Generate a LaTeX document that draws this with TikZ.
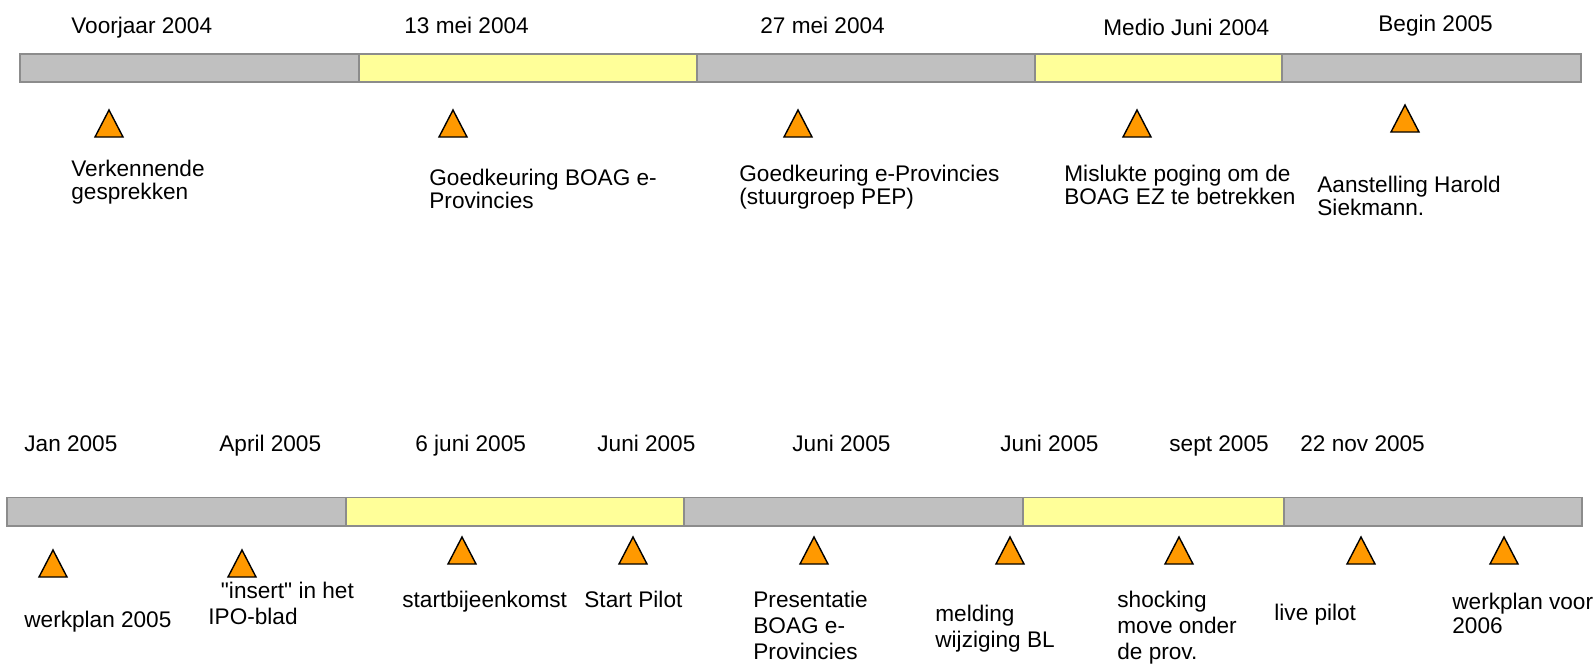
\documentclass[tikz,border=0pt]{standalone}
\usepackage{fontspec}
\setmainfont{Liberation Sans}[Ligatures=TeXOff]
\definecolor{barGrey}{HTML}{C0C0C0}
\definecolor{barEdge}{HTML}{8C8C8C}
\definecolor{barYellow}{HTML}{FFFF99}
\definecolor{markOrange}{HTML}{FF9900}
\begin{document}
\begin{tikzpicture}[x=0.5pt,y=-0.5pt,
  txt/.style={anchor=base west, inner sep=0pt, align=left, font=\fontsize{11.3}{11.65}\selectfont},
  txtlow/.style={txt, font=\fontsize{11.3}{13}\selectfont},
  seggrey/.style={fill=barGrey, draw=barEdge, line width=0.8pt},
  segyellow/.style={fill=barYellow, draw=barEdge, line width=0.8pt},
  marker/.style={fill=markOrange, draw=black, line width=0.7pt, line join=miter}]
\useasboundingbox (0,0) rectangle (1595,665);
% ---------- top timeline ----------
\foreach \a/\b/\s in {20/359/seggrey, 359/697/segyellow, 697/1035/seggrey, 1035/1282/segyellow, 1282/1581/seggrey}
  \draw[\s] (\a,54) rectangle (\b,82);
\node[txt] (d1) at (71,33.5) {Voorjaar 2004};
\node[txt] (d2) at (404,33.5) {13 mei 2004};
\node[txt] (d3) at (760,33.5) {27 mei 2004};
\node[txt] (d4) at (1103,35.5) {Medio Juni 2004};
\node[txt] (d5) at (1378,31.5) {Begin 2005};
\foreach \c/\t in {109/110, 453/110, 798/110, 1137/110, 1405/105}
  \draw[marker] (\c-14,\t+27) -- (\c,\t) -- (\c+14,\t+27) -- cycle;
\node[txt] (e1) at (71,199.8) {Verkennende\\gesprekken};
\node[txt] (e2) at (429,208.8) {Goedkeuring BOAG e-\\Provincies};
\node[txt] (e3) at (739,204.8) {Goedkeuring e-Provincies\\(stuurgroep PEP)};
\node[txt] (e4) at (1064,204.8) {Mislukte poging om de\\BOAG EZ te betrekken};
\node[txt] (e5) at (1317,215.8) {Aanstelling Harold\\Siekmann.};
% ---------- bottom timeline ----------
\foreach \a/\b/\s in {7/346/seggrey, 346/684/segyellow, 684/1023/seggrey, 1023/1284/segyellow, 1284/1582/seggrey}
  \draw[\s] (\a,497.5) rectangle (\b,526);
\node[txt] (f1) at (24,451.5) {Jan 2005};
\node[txt] (f2) at (219,451.5) {April 2005};
\node[txt] (f3) at (415,451.5) {6 juni 2005};
\node[txt] (f4) at (597,451.5) {Juni 2005};
\node[txt] (f5) at (792,451.5) {Juni 2005};
\node[txt] (f6) at (1000,451.5) {Juni 2005};
\node[txt] (f7) at (1169,451.5) {sept 2005};
\node[txt] (f8) at (1300,451.5) {22 nov 2005};
\foreach \c/\t in {53/550, 242/550, 462/537, 633/537, 814/537, 1010/537, 1179/537, 1361/537, 1504/537}
  \draw[marker] (\c-14,\t+27) -- (\c,\t) -- (\c+14,\t+27) -- cycle;
\node[txtlow] (g1) at (24,627.5) {werkplan 2005};
\node[txtlow] (g2) at (208,624) {\ \ "insert" in het\\IPO-blad};
\node[txtlow] (g3) at (402,607) {startbijeenkomst};
\node[txtlow] (g4) at (584,607) {Start Pilot};
\node[txtlow] (g5) at (753,659.3) {Presentatie\\BOAG e-\\Provincies};
\node[txtlow] (g6) at (935,647) {melding\\wijziging BL};
\node[txtlow] (g7) at (1117,659) {shocking\\move onder\\de prov.};
\node[txtlow] (g8) at (1274,620) {live pilot};
\node[txt] (g9) at (1452,633) {werkplan voor\\2006};
\end{tikzpicture}
\end{document}
